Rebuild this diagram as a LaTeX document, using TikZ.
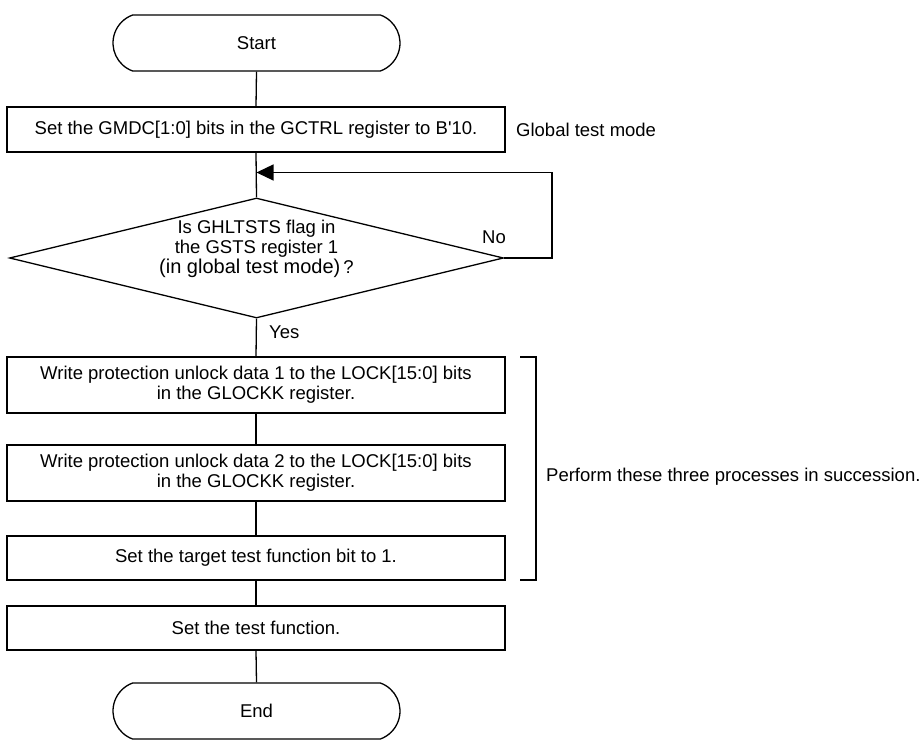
\documentclass[tikz,border=0pt]{standalone}
\usepackage{fontspec}
\setmainfont{Liberation Sans}
\usetikzlibrary{shapes.misc,shapes.geometric,arrows.meta}
\begin{document}
\begin{tikzpicture}[x=1pt,y=-1pt,
  every node/.style={font=\fontsize{18.5}{20}\selectfont},
  ln/.style={line width=1.3pt},
  term/.style={draw,line width=1.3pt,rounded rectangle,rounded rectangle arc length=140,minimum width=287pt,minimum height=56pt,inner sep=0pt},
  proc/.style={draw,line width=1.3pt,rectangle,minimum width=498pt,inner sep=0pt,align=center},
  dec/.style={draw,line width=1.3pt,diamond,shape aspect=4.1,minimum width=494pt,minimum height=120pt,inner sep=0pt},
  lbl/.style={inner sep=0pt,align=left},
  ahead/.style={-{Triangle[length=17pt,width=16pt]}}
]
\fill[white] (0,0) rectangle (924,751);
\useasboundingbox (0,0) rectangle (924,751);

\node[term] (start) at (256.5,43) {Start};
\node[proc,minimum height=45pt] (b1) at (256,129.5) {Set the GMDC[1:0] bits in the GCTRL register to B\textquotesingle10.};
\node[lbl,anchor=west] (gtm) at (516,130) {Global test mode};
\node[dec] (dia) at (256.5,258) {};
\node[inner sep=0pt,align=center] (dtext) at (256.5,249) {Is GHLTSTS flag in\\the GSTS register 1\\{\fontsize{20}{20}\selectfont(in global test mode)}\,?};
\node[lbl] (no) at (494,237) {No};
\node[lbl,anchor=west] (yes) at (269,332) {Yes};
\node[proc,minimum height=56pt] (b2) at (256,385) {Write protection unlock data 1 to the LOCK[15:0] bits\\in the GLOCKK register.};
\node[proc,minimum height=56pt] (b3) at (256,473) {Write protection unlock data 2 to the LOCK[15:0] bits\\in the GLOCKK register.};
\node[proc,minimum height=44pt] (b4) at (256,558) {Set the target test function bit to 1.};
\node[proc,minimum height=44pt] (b5) at (256,628) {Set the test function.};
\node[term] (end) at (256.5,711) {End};
\node[lbl,anchor=west] (perf) at (546,477) {Perform these three processes in succession.};

\coordinate (ah) at (256.5,172.5);
\coordinate (lp) at (552,258);
\coordinate (brt) at (520,357);
\coordinate (brb) at (520,580);

\draw[ln] (start.south) -- (b1.north);
\draw[ln] (b1.south) -- (dia.north);
\draw[ln,ahead] (dia.east) -- (lp) |- (ah);
\draw[ln] (dia.south) -- (b2.north);
\draw[ln] (b2.south) -- (b3.north);
\draw[ln] (b3.south) -- (b4.north);
\draw[ln] (b4.south) -- (b5.north);
\draw[ln] (b5.south) -- (end.north);
\draw[ln] (brt) -- ++(16,0) |- (brb);
\end{tikzpicture}
\end{document}
